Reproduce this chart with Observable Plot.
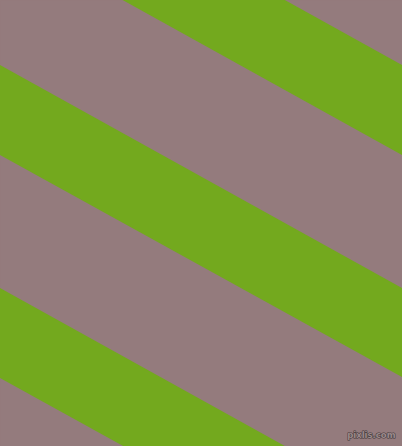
<!DOCTYPE html>
<html>
<head>
<meta charset="utf-8">
<script src="https://cdn.jsdelivr.net/npm/d3@7"></script>
<script src="https://cdn.jsdelivr.net/npm/@observablehq/plot@0.6"></script>
<style>
  html, body { margin: 0; padding: 0; background: #947B7D; }
  #chart { width: 402px; height: 446px; overflow: hidden; }
</style>
</head>
<body>
<div id="chart"></div>
<script>
// Stripe data: y of each green band's edges at x = 0 and x = 402
const edgeX = [0, 402];
const stripeIds = ["a", "b", "c"];
const stripeTopLeft = [-158, 65, 288];
const stripeTopRight = [65, 288, 511];
const stripeBottomLeft = [-68, 155, 378];
const stripeBottomRight = [155, 377, 600];
const watermark = ["pixlis.com"];

const grey = "#947B7D";
const green = "#73A91E";

const rows = [];
stripeIds.forEach((id, i) => {
  rows.push({stripe: id, x: edgeX[0], top: stripeTopLeft[i], bottom: stripeBottomLeft[i]});
  rows.push({stripe: id, x: edgeX[1], top: stripeTopRight[i], bottom: stripeBottomRight[i]});
});

const chart = Plot.plot({
  width: 402,
  height: 446,
  margin: 0,
  x: {domain: [0, 402], range: [0, 402], axis: null},
  y: {domain: [0, 446], range: [0, 446], axis: null},
  style: {background: grey, overflow: "hidden"},
  marks: [
    Plot.frame({fill: grey, stroke: null}),
    Plot.areaY(rows, {x: "x", y1: "top", y2: "bottom", z: "stripe", fill: green, clip: true}),
    Plot.text(watermark, {
      x: [395], y: [435], text: d => d,
      textAnchor: "end", fontSize: 8.5, fontWeight: "bold",
      fontFamily: "DejaVu Sans",
      fill: "#9b898b", stroke: "#3e3436", strokeWidth: 1
    })
  ]
});
document.getElementById("chart").appendChild(chart);
</script>
</body>
</html>
